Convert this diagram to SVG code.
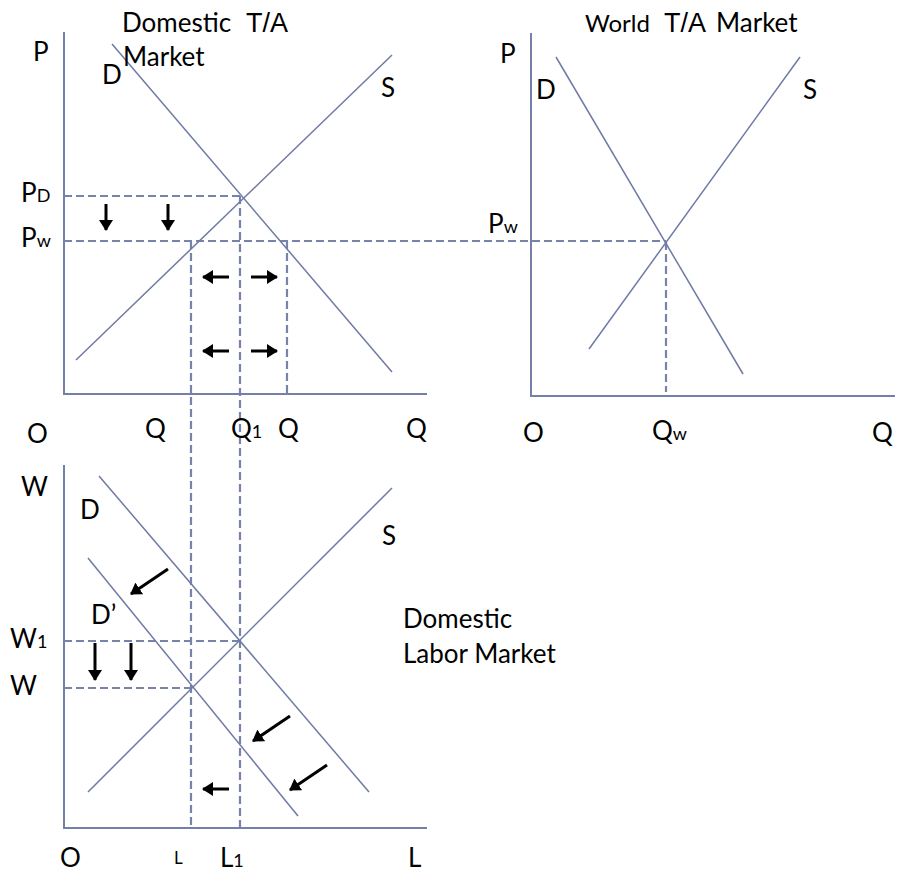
<svg xmlns="http://www.w3.org/2000/svg" width="898" height="873" viewBox="0 0 898 873">
<style>
.ax{stroke:#7580aa;stroke-width:2;fill:none}
.cv{stroke:#6f7aa6;stroke-width:1.5;fill:none}
.ds{stroke:#7883ab;stroke-width:2.2;stroke-dasharray:8,4;fill:none}
.ar{stroke:#000;stroke-width:3;fill:none;marker-end:url(#ah)}
text{font-family:Lato,"Liberation Sans",sans-serif;fill:#000}
.lb{font-size:26px}
.tt{font-size:26px}
.ta{font-family:"Liberation Sans",Arial,sans-serif}
</style>
<defs>
<marker id="ah" markerUnits="userSpaceOnUse" markerWidth="12" markerHeight="14" refX="10" refY="7" orient="auto">
<path d="M0,0 L11,7 L0,14 Z" fill="#000"/>
</marker>
</defs>
<rect width="898" height="873" fill="#fff"/>
<g id="connectors">
<line class="ds" x1="64" y1="196" x2="241" y2="196"/>
<line class="ds" x1="64" y1="241" x2="666" y2="241"/>
<line class="ds" x1="191" y1="241" x2="191" y2="827"/>
<line class="ds" x1="240" y1="196" x2="240" y2="827"/>
<line class="ds" x1="287" y1="241" x2="287" y2="394"/>
<line class="ds" x1="666" y1="242" x2="666" y2="392"/>
<line class="ds" x1="64" y1="641" x2="240" y2="641"/>
<line class="ds" x1="64" y1="688" x2="192" y2="688"/>
<line class="ar" x1="106" y1="204" x2="106" y2="230"/>
<line class="ar" x1="168" y1="204" x2="168" y2="230"/>
<line class="ar" x1="229" y1="277" x2="203" y2="277"/>
<line class="ar" x1="251" y1="277" x2="277" y2="277"/>
<line class="ar" x1="229" y1="351" x2="203" y2="351"/>
<line class="ar" x1="251" y1="351" x2="277" y2="351"/>
<line class="ar" x1="95" y1="643" x2="95" y2="680"/>
<line class="ar" x1="131" y1="643" x2="131" y2="680"/>
<line class="ar" x1="168" y1="569" x2="131" y2="594"/>
<line class="ar" x1="290" y1="716" x2="253" y2="741"/>
<line class="ar" x1="327" y1="765" x2="290" y2="790"/>
<line class="ar" x1="229" y1="789" x2="203" y2="789"/>
</g>
<g id="domestic-ta-market">
<polyline class="ax" points="64,32 64,394 427,394"/>
<line class="cv" x1="112" y1="44" x2="392" y2="372"/>
<line class="cv" x1="76" y1="360" x2="392" y2="55"/>
<text class="tt" x="122" y="32">Domestic <tspan class="ta" x="246" font-size="27">T/A</tspan></text>
<text class="tt" x="123" y="66">Market</text>
<text class="lb" x="33" y="61">P</text>
<text class="lb" x="102" y="84">D</text>
<text class="lb" x="381" y="97">S</text>
<text class="lb" x="21" y="202">P<tspan font-size="18">D</tspan></text>
<text class="lb" x="21" y="247">P<tspan font-size="18">w</tspan></text>
<text class="lb" x="27" y="443">O</text>
<text class="lb" x="145" y="438">Q</text>
<text class="lb" x="231" y="438">Q<tspan font-size="18">1</tspan></text>
<text class="lb" x="278" y="438">Q</text>
<text class="lb" x="406" y="438">Q</text>
</g>
<g id="world-ta-market">
<polyline class="ax" points="531,33 531,396 895,396"/>
<line class="cv" x1="556" y1="57" x2="743" y2="374"/>
<line class="cv" x1="589" y1="349" x2="800" y2="57"/>
<text font-size="24" x="585" y="32">World <tspan class="ta" x="664" font-size="27">T/A</tspan> <tspan x="716" font-size="26">Market</tspan></text>
<text class="lb" x="500" y="63">P</text>
<text class="lb" x="536" y="99">D</text>
<text class="lb" x="803" y="99">S</text>
<text class="lb" x="488" y="233">P<tspan font-size="18">w</tspan></text>
<text class="lb" x="523" y="442">O</text>
<text class="lb" x="652" y="440">Q<tspan font-size="18">w</tspan></text>
<text class="lb" x="872" y="442">Q</text>
</g>
<g id="domestic-labor-market">
<polyline class="ax" points="64,465 64,828 427,828"/>
<line class="cv" x1="99" y1="476" x2="369" y2="792"/>
<line class="cv" x1="88" y1="558" x2="298" y2="816"/>
<line class="cv" x1="88" y1="792" x2="392" y2="488"/>
<text class="lb" x="21" y="496">W</text>
<text class="lb" x="80" y="519">D</text>
<text class="lb" x="382" y="545">S</text>
<text class="lb" x="91" y="624">D’</text>
<text class="lb" x="10" y="648">W<tspan font-size="18">1</tspan></text>
<text class="lb" x="10" y="695">W</text>
<text class="lb" x="60" y="867">O</text>
<text x="174" y="864" font-size="17">L</text>
<text class="lb" x="220" y="867">L<tspan font-size="18">1</tspan></text>
<text class="lb" x="408" y="867">L</text>
<text class="lb" x="403" y="628">Domestic</text>
<text class="lb" x="403" y="663">Labor Market</text>
</g>
</svg>
